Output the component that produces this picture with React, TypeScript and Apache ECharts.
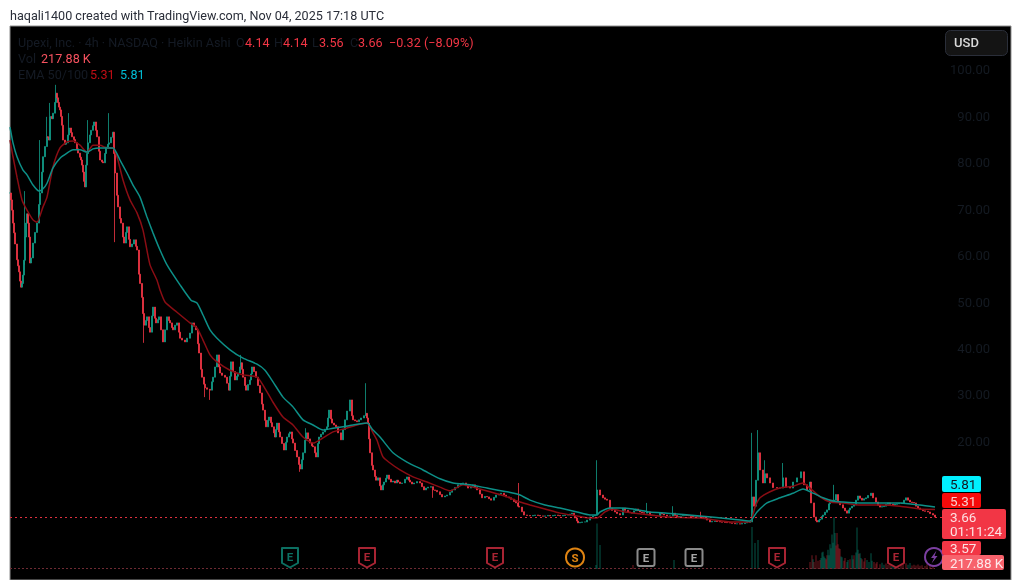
import React, { useEffect, useRef } from "react";
import * as echarts from "echarts";

const FONT = "Roboto, 'Noto Sans', sans-serif";
const priceTicks = [100, 90, 80, 70, 60, 50, 40, 30, 20];

// [bar number, Heikin Ashi close]
const closes: number[][] = [
  [0,73.5],[1,72],[2,69.8],[3,67],[4,64.9],[5,62.5],[7,59.1],[8,57.8],[9,56.5],[10,54.5],[11,53.2],[12,54],[13,55.8],[14,59],[15,64],[16,67],[17,69],[18,67],[19,64],[20,58.4],[21,59.5],[23,62.7],[25,65],[27,67],[29,71],[30,73.5],[32,78],[33,81.3],[35,83.5],[37,85.6],[38,85.5],[39,84.9],[40,90],[42,89.5],[43,90.7],[45,93],[46,95],[47,94],[48,93],[49,92],[50,91.4],[51,90],[52,88.1],[53,84.9],[55,84],[56,84.3],[58,86],[59,87.5],[61,86.5],[62,85.6],[64,85],[65,84.3],[67,83],[68,82.1],[70,81.2],[71,80.6],[72,79.5],[73,78],[74,76],[75,74.8],[76,79.5],[77,82],[78,84.3],[80,86],[81,87],[83,88],[84,88.8],[86,87],[87,85.6],[89,82.5],[90,80.6],[92,80.2],[93,80],[95,82],[96,83.4],[98,84],[99,84.3],[101,85.5],[103,86.6],[104,82],[105,77.8],[107,73],[108,70.5],[110,68],[111,67],[113,64],[114,62.7],[116,65],[117,66.2],[119,63.5],[120,61.9],[122,62.5],[124,63.4],[126,62],[127,61.2],[129,56],[130,54],[132,51],[133,47.5],[134,45],[136,46],[137,46.8],[139,44.5],[140,43.5],[142,47],[143,48.9],[145,46.5],[146,45.5],[148,46.2],[149,46.8],[151,44],[153,41.4],[155,44],[157,46.8],[159,46],[160,45.5],[162,44.5],[163,44],[165,45],[167,45.5],[169,43.5],[170,42.2],[172,41.8],[175,41.4],[177,42.2],[180,43.3],[182,45.5],[184,44.8],[186,44],[188,41],[189,39],[191,35.5],[192,33.8],[194,32.3],[195,31.5],[197,31.2],[200,31],[202,32.8],[203,33.8],[205,36],[207,38.6],[209,36],[210,34.7],[212,34.2],[215,33.8],[217,32.5],[219,31],[220,34],[221,37.1],[223,35],[225,33.2],[227,34],[228,34.7],[230,36],[231,36.9],[232,35.5],[233,33.8],[235,32],[236,31],[238,32.2],[240,33.2],[241,34.5],[242,36],[244,35],[246,33.8],[248,32],[250,30.4],[252,28],[253,26.7],[255,24.5],[256,23.1],[258,24.5],[259,25.2],[261,24],[262,23.1],[264,21.8],[265,20.9],[266,22.5],[267,23.9],[269,22],[270,20.9],[272,19.5],[274,18.1],[276,19.8],[277,20.9],[279,21.6],[280,22],[282,20.5],[283,19.6],[285,18],[287,16.6],[289,15],[290,14],[292,16],[293,17.5],[295,20.2],[296,21.8],[298,20.5],[300,19.6],[302,19],[303,18.8],[305,17.5],[306,16.6],[308,19.5],[309,20.9],[311,21.5],[313,22],[315,22.6],[317,23.1],[318,25],[319,26.7],[321,24.8],[322,23.9],[324,23.5],[326,23.1],[328,21.8],[331,20.3],[333,22.5],[335,24.6],[337,26.5],[340,28.9],[342,25.5],[343,24.6],[345,24.4],[347,24.2],[349,24.6],[351,25],[354,25.5],[356,26],[357,25],[358,23.9],[359,20.5],[360,17.5],[362,14.8],
  [363,13.8],[365,12.4],[366,11.6],[368,12.1],[370,10.4],[371,9.5],[373,10.6],[374,11.2],[376,12],[377,12.7],[379,11.8],[381,11.2],[383,11.4],[385,11],[387,11.6],[388,11.2],[390,10.9],[392,11],[395,11.8],[397,12.3],[399,11.6],[400,11.2],[402,10.8],[404,11],[407,11.3],[410,11],[412,10.2],[414,9.5],[416,9.9],[418,10.1],[421,10.2],[423,9.5],[425,9.4],[427,9.1],[430,8.5],[432,8],[435,8.2],[437,8.4],[440,9],[442,9.5],[445,10],[448,10.6],[451,10.9],[453,11],[456,10.4],[458,9.9],[461,10.3],[463,10.6],[465,10],[467,9.5],[470,8.6],[472,7.8],[475,8.1],[477,8],[479,7.6],[481,7.3],[484,7.9],[486,8.4],[489,8.6],[491,8.8],[494,8.4],[496,8],[499,7.8],[501,7.5],[504,7],[506,6.7],[508,6],[509,5.8],[512,4.8],[514,4.1],[517,4],[520,3.9],[523,4],[525,4.1],[528,4],[530,3.9],[533,3.85],[535,3.9],[538,4],[540,3.9],[543,4],[545,4.1],[548,4],[550,3.9],[553,4],[555,4.1],[558,4.1],[560,4.3],[562,4.5],[564,4],[565,3.45],[567,2.8],[568,2.4],[570,2.5],[572,2.6],[575,2.6],[577,3],[580,3.66],[583,3.9],[585,4.1],
  [587,9.5],[590,8.4],[593,7.8],[595,7.5],[597,7.3],[600,5.6],[602,5.1],[605,4.75],[607,4.4],[610,4.1],[613,5.6],[615,5.1],[618,4.75],[620,4.6],[622,4.5],[624,5],[626,5.4],[628,5],[630,4.75],[632,4.6],[634,4.5],[637,4.75],[640,4.1],[642,4.05],[644,4],[647,3.9],[650,4.5],[652,4.3],[654,4.1],[657,3.9],[660,3.9],[663,4.5],[665,4],[667,3.66],[669,3.8],[671,3.9],[673,4],[675,4.1],[677,4],[679,3.9],[681,3.8],[683,3.66],[685,3.7],[687,3.66],[689,3.7],[691,3.66],[693,3.5],[695,3.45],[697,3],[700,2.6],[702,2.7],[705,2.8],[707,2.7],[710,2.6],[712,2.55],[715,2.5],[717,2.45],[720,2.4],[722,2.3],[725,2.2],[727,2.2],[730,2.15],[732,2.25],[735,2.4],[737,2.5],[740,2.6],
  [742,8],[744,6],[746,11.6],[748,17.5],[750,13.8],[753,11],[755,13],[757,12.1],[760,11],[763,10],[767,9.9],[770,9.9],[773,12.1],[776,10.1],[780,9.9],[783,11.2],[787,12.1],[791,13.4],[794,10.6],[797,9.5],[800,11.2],[801,6.7],[804,3.66],[806,2.9],[807,2.6],[809,3],[810,3.2],[812,3.8],[813,4.1],[815,4.7],[817,5.2],[819,6.5],[820,7.3],[822,7],[824,7.3],[826,8.5],[828,6.9],[830,6.3],[833,5.6],[835,5],[837,4.5],[839,5.2],[840,5.6],[842,6],[844,6.25],[846,7.3],[848,8.2],[850,7.7],[852,7.3],[854,7.6],[856,7.8],[858,8.3],[861,8.8],[863,7.8],[866,6.9],[868,6.2],[870,5.8],[872,5.9],[874,6],[876,6.4],[878,6.7],[880,6.4],[883,6.25],[885,6.4],[887,6.5],[889,6.6],[892,6.7],[894,7.3],[896,7.8],[898,7.3],[900,6.9],[902,6.8],[904,6.7],[906,6],[908,5.6],[910,5.3],[913,5],[915,4.9],[918,4.75],[920,4.4],[923,4.1],[925,3.66],
];
// [bar number, wick end]
const upperWicks: number[][] = [[15,73.9],[30,84.9],[37,89.9],[40,92.9],[46,96.8],[59,90.7],[78,89.2],[99,90.7],[231,38.6],[296,22.8],[356,32.5],[509,11],[587,15.9],[637,6.7],[663,6],[691,4.8],[742,21.8],[748,22.4],[755,15.9],[773,15.3],[824,10.6]];
const lowerWicks: number[][] = [[15,58],[105,62.9],[134,41.2],[195,29.5],[200,28.9],[290,13.4],[423,7.8],[742,2.6]];

const ema50: number[][] = [
  [0,84.9],[3,81.3],[7,76.9],[12,72],[17,69.8],[23,67.7],[27,67.2],[33,70.5],[37,72.6],[43,79.1],[50,83.2],[57,84.5],[63,84.7],[70,83.8],[77,82.3],[83,83.8],[90,83.8],[97,83.2],[103,83.2],[107,81.3],[113,76.3],[120,72],[127,69.2],[133,65.5],[140,58],[147,54.7],[150,52.6],[155,50],[167,47.8],[180,45.5],[187,44.4],[193,41.8],[200,38.6],[207,37.1],[220,35.3],[233,34.3],[247,33.8],[253,32.1],[263,28.4],[273,25.2],[283,23.5],[293,20.9],[303,19.6],[313,20.7],[323,22],[333,22.6],[347,23.5],[357,23.9],[363,21.8],[367,20.2],[373,16.6],[380,15.3],[390,13.8],[403,12.3],[417,11.2],[430,10.1],[440,9.3],[453,10.6],[463,10.1],[480,9.1],[497,8],[510,6.9],[520,6.25],[535,5.4],[550,4.5],[567,3.9],[580,3.45],[587,3.45],[595,4.75],[602,5.4],[615,4.75],[640,4.1],[657,3.66],[690,3.45],[723,2.6],[740,2.6],[745,5.8],[750,7.8],[760,9.1],[770,9.9],[783,10.3],[793,11],[800,9.9],[810,8],[820,6.9],[833,6.7],[850,6.25],[870,6.25],[890,6],[910,5.4],[925,5.31],
];
const ema100: number[][] = [
  [0,87.7],[3,84.3],[7,81.3],[13,78.4],[17,77.4],[23,75.2],[29,73.9],[33,74.4],[37,75.6],[43,78.9],[50,81],[57,82.1],[63,82.8],[70,82.8],[77,82.3],[83,83],[90,83.2],[97,83.2],[103,83.2],[110,80.6],[117,77.8],[123,75.2],[130,72.6],[137,68.3],[143,64.9],[150,61.2],[157,58],[170,53.7],[181,50.4],[187,49.8],[193,47.2],[200,44],[207,42.2],[220,39.7],[233,37.9],[247,36.6],[255,35.3],[263,32.8],[273,29.5],[283,27.4],[293,24.6],[303,23.5],[313,22.4],[323,22.8],[333,23.1],[343,23.5],[357,23.9],[363,22.4],[370,20.9],[383,17.5],[397,15.5],[413,13.8],[430,11.9],[443,11],[460,10.6],[477,9.9],[497,9.1],[510,8.4],[520,7.3],[535,6.25],[550,5.6],[567,4.75],[580,4.1],[587,4.1],[590,4.75],[600,5.6],[610,5.6],[623,5.4],[640,4.75],[657,4.5],[690,3.9],[723,3.2],[740,2.8],[747,4.75],[757,6.7],[770,7.8],[783,8.8],[793,9.7],[803,8.8],[813,7.8],[823,7.1],[833,6.9],[850,6.7],[870,6.7],[890,6.7],[910,6.25],[925,5.81],
];
// [bar number, volume in thousands, 1 = up bar, 0 = down bar]
const volumes: number[][] = [
  [509,150,1],[580,150,1],[586,290,1],[587,3300,1],[590,1740,1],[623,290,0],[664,650,1],[742,3050,1],[745,1890,1],[748,2100,1],[800,500,0],[802,1000,0],[803,700,1],[804,500,0],[806,1000,0],[808,600,0],[810,650,0],[811,800,1],[812,1200,1],[813,1250,1],[814,900,1],[815,800,1],[816,700,0],[817,1000,0],[818,1400,1],[819,1000,1],[820,1800,1],[821,1500,1],[822,2500,1],[823,1900,1],[824,3750,1],[825,2600,1],[826,1700,0],[827,2600,0],[828,1800,0],[829,1500,0],[830,1450,0],[831,900,1],[832,850,1],[834,600,0],[835,800,0],[837,500,1],[838,650,1],[840,700,0],[842,1000,1],[843,700,1],[844,1000,0],[846,1200,1],[847,3000,1],[848,1400,1],[849,1100,0],[850,1150,1],[851,800,1],[852,700,0],[854,550,0],[855,800,0],[857,650,1],[859,500,1],[861,1150,1],[862,600,1],[864,500,0],[866,400,0],[867,500,0],[870,350,0],[872,450,1],[874,300,1],[876,400,0],[878,300,0],[880,420,0],[882,280,1],[884,350,1],[886,300,0],[888,380,0],[891,300,0],[893,500,0],[896,420,0],[898,300,1],[900,430,1],[902,250,0],[904,300,0],[906,260,0],[908,320,0],[910,240,0],[912,280,0],[915,220,0],[917,350,0],[920,260,0],[923,218,0],
];

const legendRows: [string, number, number, string][] = [
  ["Upexi, Inc. · 4h · NASDAQ · Heikin Ashi", 18, 42, "#141a24"],
  ["O", 236, 42, "#141a24"], ["4.14", 245, 42, "#f23645"],
  ["H", 274, 42, "#141a24"], ["4.14", 283, 42, "#f23645"],
  ["L", 312, 42, "#141a24"], ["3.56", 319, 42, "#f23645"],
  ["C", 350, 42, "#141a24"], ["3.66", 358, 42, "#f23645"],
  ["−0.32 (−8.09%)", 389, 42, "#f23645"],
  ["Vol", 18, 58, "#141a24"], ["217.88 K", 41, 58, "#f7525f"],
  ["EMA 50/100", 18, 74, "#141a24"], ["5.31", 90, 74, "#c00d14"], ["5.81", 120, 74, "#00bcd4"],
];
const priceTags: [string, number, number, number, number, string, string][] = [
  ["5.81", 942, 476, 39, 16, "#00f0ff", "#131722"],
  ["5.31", 942, 493, 39, 15, "#f60a0a", "#f8d0d0"],
  ["3.66", 942, 509, 64, 30, "#f23645", "#fde0e2"],
  ["3.57", 942, 541, 39, 14, "#f23645", "#fde0e2"],
  ["217.88 K", 942, 555, 62, 15, "#f7626c", "#fde8ea"],
];
const countdown = "01:11:24";
const shieldEvents: [string, number, string][] = [
  ["E", 280, "#0c6f62"], ["E", 357, "#a82433"], ["E", 485, "#a82433"], ["E", 767, "#a82433"], ["E", 886, "#a82433"],
];
const squareEvents = [636, 684];
const splitBar = 565;
const lightningBar = 924;

const GRID_LEFT = 10;
const GRID_WIDTH = 1001;

function txt(text: string, x: number, y: number, fill: string, size = 12.5, weight: any = 400, align = "left") {
  return { type: "text", silent: true, z: 50, style: { text, x, y, fill, font: `${weight} ${size}px ${FONT}`, textAlign: align, textVerticalAlign: "middle" } };
}

export default function App() {
  const ref = useRef<HTMLDivElement>(null);
  useEffect(() => {
    const chart = echarts.init(ref.current!, undefined, { renderer: "svg" });
    const highs = new Map(upperWicks.map((w) => [w[0], w[1]]));
    const lows = new Map(lowerWicks.map((w) => [w[0], w[1]]));
    const candleData = closes.map(([bar, c], i) => {
      const o = i === 0 ? c : closes[i - 1][1];
      const h = highs.get(bar) ?? Math.max(o, c);
      const l = lows.get(bar) ?? Math.min(o, c);
      return [bar, o, c, l, h];
    });
    const gfx: any[] = [];
    gfx.push(txt("haqali1400 created with TradingView.com, Nov 04, 2025 17:18 UTC", 10, 15, "#2a2e39", 12.6));
    legendRows.forEach(([t, x, y, c]) => gfx.push(txt(t, x, y, c, 12.6)));
    gfx.push({ type: "rect", z: 49, shape: { x: 945.5, y: 30.5, width: 62, height: 25, r: 5 }, style: { fill: "#141414", stroke: "#2a2e39", lineWidth: 1 } });
    gfx.push(txt("USD", 954, 42.5, "#d9d9d9", 13, 500));
    priceTags.forEach(([t, x, y, w, h, bg, fg], i) => {
      gfx.push({ type: "rect", z: 40 + i, shape: { x, y, width: w, height: h, r: 2 }, style: { fill: bg } });
      const cy = i === 2 ? y + 8 : y + h / 2;
      gfx.push(txt(t, x + 8, cy, fg, 13.5));
      if (i === 2) gfx.push(txt(countdown, x + 8, y + 22, fg, 13.5));
    });
    shieldEvents.forEach(([t, bar, c]) => {
      const x = GRID_LEFT + bar;
      gfx.push({ type: "polygon", z: 30, shape: { points: [[x - 8, 548], [x + 8, 548], [x + 8, 563], [x, 567.5], [x - 8, 563]] }, style: { fill: "#000", stroke: c, lineWidth: 2, lineJoin: "round" } });
      gfx.push(txt(t, x, 557, c, 11.5, 700, "center"));
    });
    squareEvents.forEach((bar) => {
      const x = GRID_LEFT + bar;
      gfx.push({ type: "rect", z: 30, shape: { x: x - 8.5, y: 549, width: 17, height: 17, r: 2 }, style: { fill: "#000", stroke: "#8a8a8a", lineWidth: 2 } });
      gfx.push(txt("E", x, 557.5, "#a6a6a6", 11.5, 700, "center"));
    });
    const sx = GRID_LEFT + splitBar;
    gfx.push({ type: "circle", z: 30, shape: { cx: sx, cy: 557.5, r: 9 }, style: { fill: "#000", stroke: "#e08412", lineWidth: 2 } });
    gfx.push(txt("S", sx, 557.5, "#e08412", 11.5, 700, "center"));
    const lx = GRID_LEFT + lightningBar;
    gfx.push({ type: "circle", z: 30, shape: { cx: lx, cy: 557, r: 9 }, style: { fill: "#000", stroke: "#7b3fa0", lineWidth: 2 } });
    gfx.push({ type: "polygon", z: 31, shape: { points: [[lx + 2.5, 550.5], [lx - 3, 558], [lx, 558], [lx - 2.5, 563.5], [lx + 3.5, 556], [lx + 0.5, 556]] }, style: { fill: "#7b3fa0" } });

    chart.setOption({
      animation: false,
      backgroundColor: "#ffffff",
      grid: [
        { left: GRID_LEFT, width: GRID_WIDTH, top: 26, height: 554, show: true, backgroundColor: "#000", borderColor: "#8f8f8f", borderWidth: 1 },
        { left: GRID_LEFT, width: GRID_WIDTH, top: 500, height: 69, show: false },
      ],
      xAxis: [
        { type: "value", gridIndex: 0, min: 0, max: GRID_WIDTH, show: false },
        { type: "value", gridIndex: 1, min: 0, max: GRID_WIDTH, show: false },
      ],
      yAxis: [
        {
          type: "value", gridIndex: 0, position: "right", min: -9.91, max: 109.48, splitLine: { show: false },
          axisLine: { show: false }, axisTick: { show: false },
          axisLabel: { inside: true, margin: 21, customValues: priceTicks, color: "#141a22", fontSize: 13, fontFamily: FONT, formatter: (v: number) => v.toFixed(2) },
        },
        { type: "value", gridIndex: 1, min: 0, max: 5000, show: false, splitLine: { show: false } },
      ],
      series: [
        {
          type: "bar", name: "Vol", xAxisIndex: 1, yAxisIndex: 1, barWidth: 1.5, silent: true, z: 1,
          data: volumes.map(([bar, v, up]) => ({ value: [bar, v], itemStyle: { color: up ? "rgba(8,153,129,0.38)" : "rgba(242,54,69,0.32)" } })),
          markLine: {
            silent: true, symbol: "none", label: { show: false },
            lineStyle: { color: "#6e2a33", type: [2, 2], width: 1 },
            data: [[{ coord: [0, 20] }, { coord: [925, 20] }]],
          },
        },
        {
          type: "candlestick", name: "Upexi", xAxisIndex: 0, yAxisIndex: 0, barWidth: 2.4, z: 3, silent: true,
          encode: { x: 0, y: [1, 2, 3, 4] },
          itemStyle: { color: "#129c88", color0: "#f23645", borderColor: "#129c88", borderColor0: "#f23645", borderWidth: 0.8 },
          data: candleData,
          markLine: {
            silent: true, symbol: "none", label: { show: false },
            lineStyle: { color: "#e0303f", type: [2, 3], width: 1 },
            data: [[{ coord: [0, 3.66] }, { coord: [932, 3.66] }]],
          },
        },
        { type: "line", name: "EMA 50", xAxisIndex: 0, yAxisIndex: 0, data: ema50, showSymbol: false, z: 4, silent: true, smooth: 0.2, lineStyle: { color: "#8a0d14", width: 1.5 } },
        { type: "line", name: "EMA 100", xAxisIndex: 0, yAxisIndex: 0, data: ema100, showSymbol: false, z: 5, silent: true, smooth: 0.2, lineStyle: { color: "#0d8f87", width: 1.5 } },
      ],
      graphic: gfx,
    });
    return () => chart.dispose();
  }, []);
  return <div ref={ref} style={{ position: "absolute", left: 0, top: 0, width: 1021, height: 580, filter: "blur(0.5px)" }} />;
}
